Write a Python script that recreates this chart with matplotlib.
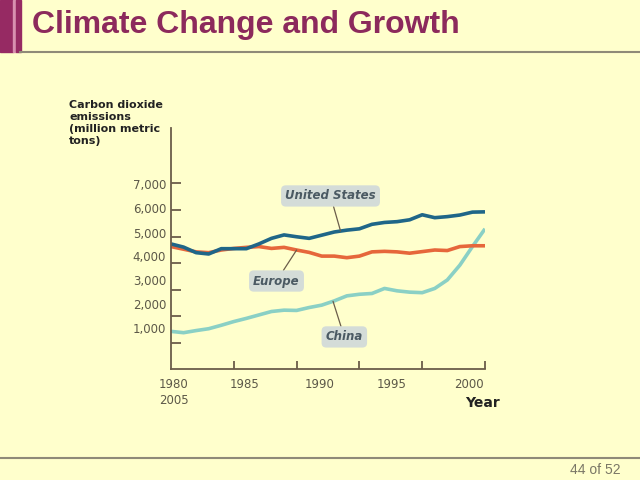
import numpy as np
import matplotlib.pyplot as plt
from matplotlib.patches import Rectangle
from matplotlib.lines import Line2D

# DATA (million metric tons of CO2)
years = list(range(1980, 2006))
us = [4720, 4600, 4390, 4340, 4540, 4540, 4540, 4720, 4930, 5060,
      4990, 4930, 5050, 5170, 5240, 5290, 5460, 5530, 5560, 5630,
      5820, 5710, 5750, 5810, 5920, 5930]
europe = [4620, 4520, 4420, 4390, 4490, 4550, 4590, 4620, 4550, 4590,
          4490, 4400, 4260, 4260, 4200, 4260, 4420, 4440, 4420, 4370,
          4430, 4490, 4470, 4620, 4650, 4650]
china = [1420, 1370, 1450, 1520, 1650, 1790, 1910, 2040, 2170, 2220,
         2210, 2320, 2410, 2570, 2760, 2820, 2850, 3040, 2950, 2900,
         2880, 3040, 3360, 3920, 4620, 5290]

ytick_vals = [1000, 2000, 3000, 4000, 5000, 6000, 7000]
ytick_labels = ["1,000", "2,000", "3,000", "4,000", "5,000", "6,000", "7,000"]
xtick_vals = [1985, 1990, 1995, 2000, 2005]

BG = "#FFFFCC"
AXC = "#6b5d4a"
W, H = 640, 480


def fx(px):
    return px / W


def fy(py):
    return 1 - py / H


fig = plt.figure(figsize=(6.4, 4.8), dpi=100, facecolor=BG)

# slide decoration
fig.patches.append(Rectangle((0, fy(52)), fx(13), 52 / H, transform=fig.transFigure,
                             color="#962a63", zorder=0))
fig.patches.append(Rectangle((fx(13), fy(52)), fx(3), 52 / H, transform=fig.transFigure,
                             color="#d890b0", zorder=0))
fig.patches.append(Rectangle((fx(16), fy(52)), fx(5), 52 / H, transform=fig.transFigure,
                             color="#962a63", zorder=0))
fig.lines.append(Line2D([fx(20), 1], [fy(52), fy(52)], transform=fig.transFigure,
                        color="#8f8a78", lw=1.5))
fig.lines.append(Line2D([0, 1], [fy(458), fy(458)], transform=fig.transFigure,
                        color="#8f8a78", lw=1.5))
fig.text(fx(32), fy(25), "Climate Change and Growth", fontsize=23, fontweight="bold",
         family="Liberation Sans", color="#8c2a5c", va="center", ha="left")
fig.text(fx(621), fy(470), "44 of 52", fontsize=10, family="Liberation Sans",
         color="#7a7766", ha="right", va="center")

# chart
ax = fig.add_axes([fx(171), fy(369), fx(485) - fx(171), (369 - 128) / H])
ax.set_facecolor(BG)
ax.plot(years, china, color="#8ad0c5", lw=2.6, solid_capstyle="butt")
ax.plot(years, europe, color="#e6673b", lw=2.6, solid_capstyle="butt")
ax.plot(years, us, color="#1f6688", lw=2.6, solid_capstyle="butt")

ax.set_xlim(1980, 2005)
ax.set_ylim(0, (369 - 128) / 26.5 * 1000)
for s in ["top", "right"]:
    ax.spines[s].set_visible(False)
for s in ["left", "bottom"]:
    ax.spines[s].set_color(AXC)
    ax.spines[s].set_linewidth(1.3)
ax.set_yticks(ytick_vals)
ax.set_xticks(xtick_vals)
ax.set_yticklabels([])
ax.set_xticklabels([])
ax.tick_params(axis="y", direction="in", length=7, width=1.3, color=AXC)
ax.tick_params(axis="x", direction="in", length=6, width=1.3, color=AXC)

# tick labels (offset from ticks as in the original)
label_y = [329, 306, 282, 258, 234, 210, 186]
for lab, py in zip(ytick_labels, label_y):
    fig.text(fx(166), fy(py), lab, fontsize=8.5, color="#5c5848", ha="right", va="center")
fig.text(fx(174), fy(384), "1980", fontsize=8.5, color="#5c5848", ha="center", va="center")
fig.text(fx(174), fy(400), "2005", fontsize=8.5, color="#5c5848", ha="center", va="center")
for lab, px in zip(["1985", "1990", "1995", "2000"], [245, 320, 392, 469]):
    fig.text(fx(px), fy(384), lab, fontsize=8.5, color="#5c5848", ha="center", va="center")
fig.text(fx(500), fy(403), "Year", fontsize=10, fontweight="bold", color="#222222",
         ha="right", va="center")
fig.text(fx(69), fy(100), "Carbon dioxide\nemissions\n(million metric\ntons)", fontsize=8,
         fontweight="bold", color="#222222", ha="left", va="top", linespacing=1.25)

# series labels
box = dict(boxstyle="round,pad=0.35,rounding_size=0.4", fc="#d4dcd8", ec="none")
arrow = dict(arrowstyle="-", color="#6b5d4a", lw=0.9, shrinkA=0, shrinkB=0)
ax.annotate("United States", xy=(1993.5, np.interp(1993.5, years, us)), xytext=(1992.7, 6530),
            fontsize=8.5, fontstyle="italic", fontweight="bold", color="#4b5a63",
            ha="center", va="center", bbox=box, arrowprops=arrow)
ax.annotate("Europe", xy=(1990.0, np.interp(1990.0, years, europe)), xytext=(1988.4, 3320),
            fontsize=8.5, fontstyle="italic", fontweight="bold", color="#4b5a63",
            ha="center", va="center", bbox=box, arrowprops=arrow)
ax.annotate("China", xy=(1992.9, np.interp(1992.9, years, china)), xytext=(1993.8, 1210),
            fontsize=8.5, fontstyle="italic", fontweight="bold", color="#4b5a63",
            ha="center", va="center", bbox=box, arrowprops=arrow)

fig.savefig("out.png", dpi=100, facecolor=BG)
